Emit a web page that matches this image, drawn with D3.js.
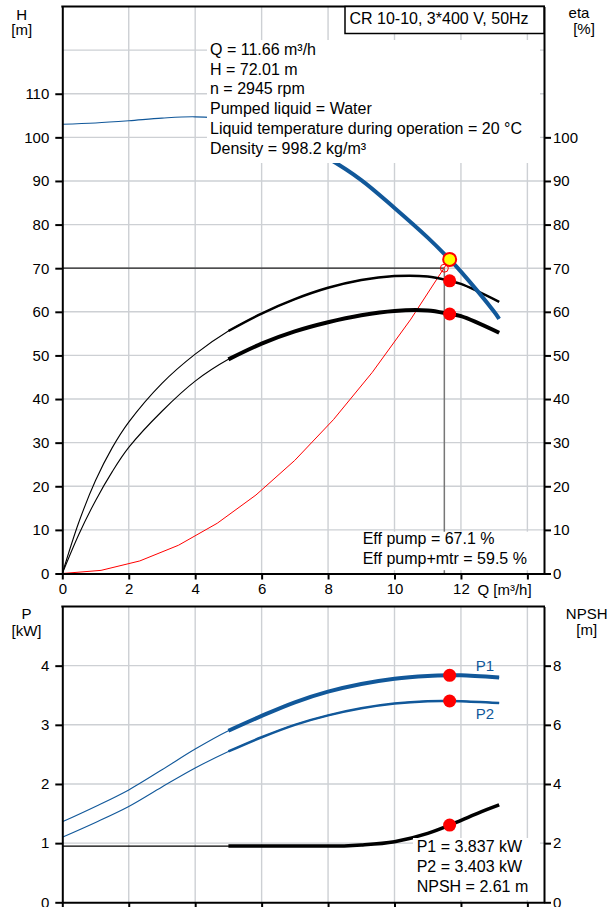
<!DOCTYPE html>
<html>
<head>
<meta charset="utf-8">
<script src="https://cdn.jsdelivr.net/npm/d3@7"></script>
<style>
  body { margin: 0; background: #fff; }
  svg text { font-family: "Liberation Sans", Arial, sans-serif; fill: #000; }
</style>
</head>
<body>
<div id="chart"></div>
<script>
// ---- data ----
const qTicks = [0, 2, 4, 6, 8, 10, 12, 14];
const qLabels = ['0', '2', '4', '6', '8', '10', '12', ''];
const hTicks = [0, 10, 20, 30, 40, 50, 60, 70, 80, 90, 100, 110];
const etaTicks = [0, 10, 20, 30, 40, 50, 60, 70, 80, 90, 100];
const pTicks = [0, 1, 2, 3, 4];
const npshTicks = [0, 2, 4, 6, 8];

// head curve [m]
const headQ = [0, 1, 2, 3, 4, 5, 6, 7, 8, 9, 10, 11, 11.66, 12, 13, 13.15];
const headH = [103, 103.3, 103.8, 104.4, 104.7, 104.1, 102.3, 99.2, 95.2, 90.2, 83.8, 77.0, 72.01, 69.2, 60.0, 58.4];

// efficiency curves [%]
const etaQ = [0, 0.5, 1, 1.5, 2, 3, 4, 5, 6, 7, 8, 9, 10, 11, 11.66, 12, 13.15];
const etaPump = [0, 11.8, 21.3, 28.8, 34.7, 43.6, 50.3, 55.6, 59.6, 62.9, 65.5, 67.3, 68.2, 68.1, 67.1, 66.4, 62.3];
const etaTotal = [0, 9.0, 16.7, 23.3, 28.9, 37.2, 44.1, 49.1, 52.7, 55.5, 57.6, 59.2, 60.2, 60.3, 59.5, 59.0, 55.2];

// system curve through the duty point
const sysQ = [0, 1.166, 2.332, 3.498, 4.664, 5.83, 6.996, 8.162, 9.328, 10.494, 11.66];
const sysH = [0, 0.72, 2.88, 6.48, 11.52, 18.0, 25.92, 35.28, 46.09, 58.33, 72.01];

// power curves [kW]
const powQ = [0, 1, 2, 3, 4, 5, 6, 7, 8, 9, 10, 11, 11.66, 12, 13.15];
const powP1 = [1.36, 1.62, 1.90, 2.24, 2.59, 2.90, 3.15, 3.38, 3.56, 3.69, 3.78, 3.826, 3.837, 3.836, 3.80];
const powP2 = [1.10, 1.35, 1.62, 1.95, 2.27, 2.55, 2.79, 3.00, 3.16, 3.28, 3.36, 3.40, 3.403, 3.40, 3.37];

// NPSH curve [m]
const npshQ = [0, 2, 4, 5, 6, 7, 8, 9, 10, 11, 11.66, 12.5, 13.15];
const npshV = [1.9, 1.9, 1.9, 1.9, 1.9, 1.9, 1.9, 1.94, 2.05, 2.33, 2.61, 3.01, 3.29];

const duty = { q: 11.5, h: 70 };
const op = { q: 11.66, h: 72.01, etaPump: 67.1, etaTotal: 59.5, p1: 3.837, p2: 3.403, npsh: 2.61 };

const infoLines = ['Q = 11.66 m³/h', 'H = 72.01 m', 'n = 2945 rpm', 'Pumped liquid = Water',
  'Liquid temperature during operation = 20 °C', 'Density = 998.2 kg/m³'];
const effLines = ['Eff pump = 67.1 %', 'Eff pump+mtr = 59.5 %'];
const powLines = ['P1 = 3.837 kW', 'P2 = 3.403 kW', 'NPSH = 2.61 m'];

const BLUE = '#11589a';
const GRID = '#cdd0d4';

const svg = d3.select('#chart').append('svg')
  .attr('width', 615)
  .attr('height', 907);

// scales
const x = d3.scaleLinear().domain([0, 14.5]).range([62.3, 544]);
const yH = d3.scaleLinear().domain([0, 130]).range([573.5, 6.5]);
const yP = d3.scaleLinear().domain([0, 5]).range([902.3, 606.5]);
const yN = d3.scaleLinear().domain([0, 10]).range([902.3, 606.5]);

const zip = (qs, vs) => qs.map((q, i) => ({ q, v: vs[i] }));
const lineFor = (y, c) => d3.line().x(d => x(d.q)).y(d => y(d.v)).curve(c);

// grid
function grid(y, yVals, top, bottom) {
  const g = svg.append('g').attr('stroke', GRID).attr('stroke-width', 1.4);
  g.selectAll('.vg').data([2, 4, 6, 8, 10, 12, 14]).enter().append('line')
    .attr('x1', d => x(d)).attr('x2', d => x(d))
    .attr('y1', top).attr('y2', bottom);
  g.selectAll('.hg').data(yVals).enter().append('line')
    .attr('x1', x(0)).attr('x2', x(14.5))
    .attr('y1', d => y(d)).attr('y2', d => y(d));
}
grid(yH, [10, 20, 30, 40, 50, 60, 70, 80, 90, 100, 110, 120], yH(130), yH(0));
grid(yP, [1, 2, 3, 4], yP(5), yP(0));

// curve helper: thin over the whole range, thick from Q = 5
function curve(qs, vs, y, color, thick, c = d3.curveCatmullRom.alpha(0.5)) {
  const data = zip(qs, vs);
  svg.append('path').datum(data)
    .attr('d', lineFor(y, c)).attr('fill', 'none')
    .attr('stroke', color).attr('stroke-width', 1.1);
  svg.append('path').datum(data.filter(d => d.q >= 5))
    .attr('d', lineFor(y, c)).attr('fill', 'none')
    .attr('stroke', color).attr('stroke-width', thick);
}

// ---- upper chart ----
svg.append('line')
  .attr('x1', x(0)).attr('x2', x(duty.q))
  .attr('y1', yH(duty.h)).attr('y2', yH(duty.h))
  .attr('stroke', '#222').attr('stroke-width', 1.2);
svg.append('line')
  .attr('x1', x(duty.q)).attr('x2', x(duty.q))
  .attr('y1', yH(duty.h)).attr('y2', yH(0))
  .attr('stroke', '#777').attr('stroke-width', 1.5);

svg.append('path').datum(zip(sysQ, sysH))
  .attr('d', lineFor(yH, d3.curveLinear))
  .attr('fill', 'none').attr('stroke', '#ff0000').attr('stroke-width', 1);

curve(etaQ, etaPump, yH, '#000', 2.5);
curve(etaQ, etaTotal, yH, '#000', 4);
curve(headQ, headH, yH, BLUE, 4);

// ---- lower chart ----
curve(powQ, powP1, yP, BLUE, 4);
curve(powQ, powP2, yP, BLUE, 2.5);
curve(npshQ, npshV, yN, '#000', 3.5, d3.curveMonotoneX);

// white label boxes
function textBox(bx, by, bw, bh, lines, tx, firstBase, step) {
  svg.append('rect').attr('x', bx).attr('y', by).attr('width', bw).attr('height', bh).attr('fill', '#fff');
  svg.append('g').selectAll('text').data(lines).enter().append('text')
    .attr('x', tx).attr('y', (d, i) => firstBase + i * step)
    .style('font-size', '16px')
    .text(d => d);
}
textBox(207, 40, 333, 123, infoLines, 210, 55, 19.7);
textBox(360.7, 531.7, 183, 38.5, effLines, 362.7, 544.3, 20);
textBox(413, 838, 127, 62, powLines, 416.7, 852.4, 19.8);

// operating points
svg.append('circle')
  .attr('cx', x(duty.q)).attr('cy', yH(duty.h)).attr('r', 4)
  .attr('fill', 'none').attr('stroke', '#ff0000').attr('stroke-width', 1);
[[op.etaPump, yH], [op.etaTotal, yH], [op.p1, yP], [op.p2, yP], [op.npsh, yN]].forEach(([v, y]) => {
  svg.append('circle').attr('cx', x(op.q)).attr('cy', y(v)).attr('r', 6.5).attr('fill', '#ff0000');
});
svg.append('circle')
  .attr('cx', x(op.q)).attr('cy', yH(op.h)).attr('r', 6.5)
  .attr('fill', '#ffff00').attr('stroke', '#ff0000').attr('stroke-width', 2);

// P1 / P2 labels
svg.append('text').attr('x', 475.7).attr('y', 670.7).style('font-size', '15px').style('fill', BLUE).text('P1');
svg.append('text').attr('x', 475.7).attr('y', 718.7).style('font-size', '15px').style('fill', BLUE).text('P2');

// ---- axes ----
function styleAxis(g) {
  g.select('.domain').attr('stroke', '#000').attr('stroke-width', 2);
  g.selectAll('.tick line').attr('stroke', '#000').attr('stroke-width', 2);
  g.selectAll('.tick text').style('font-size', '15px').style('font-family', '"Liberation Sans", Arial, sans-serif');
}

svg.append('g')
  .attr('transform', `translate(${x(0)},0)`)
  .call(d3.axisLeft(yH).tickValues(hTicks).tickSize(7).tickPadding(6).tickSizeOuter(0))
  .call(styleAxis);
svg.append('g')
  .attr('transform', `translate(${x(14.5)},0)`)
  .call(d3.axisRight(yH).tickValues(etaTicks).tickSize(7).tickPadding(2).tickSizeOuter(0))
  .call(styleAxis);
svg.append('g')
  .attr('transform', `translate(0,${yH(0)})`)
  .call(d3.axisBottom(x).tickValues(qTicks).tickFormat((d, i) => qLabels[i]).tickSize(6).tickPadding(4).tickSizeOuter(0))
  .call(styleAxis);

svg.append('g')
  .attr('transform', `translate(${x(0)},0)`)
  .call(d3.axisLeft(yP).tickValues(pTicks).tickFormat(d3.format('d')).tickSize(7).tickPadding(6).tickSizeOuter(0))
  .call(styleAxis);
svg.append('g')
  .attr('transform', `translate(${x(14.5)},0)`)
  .call(d3.axisRight(yN).tickValues(npshTicks).tickFormat(d3.format('d')).tickSize(7).tickPadding(2).tickSizeOuter(0))
  .call(styleAxis);
svg.append('g')
  .attr('transform', `translate(0,${yP(0)})`)
  .call(d3.axisBottom(x).tickValues(qTicks).tickFormat('').tickSize(6).tickSizeOuter(0))
  .call(styleAxis);

// top borders
[yH(130), yP(5)].forEach(yy => {
  svg.append('line').attr('x1', x(0) - 1).attr('x2', x(14.5) + 1)
    .attr('y1', yy).attr('y2', yy).attr('stroke', '#000').attr('stroke-width', 2);
});

// pump title box
svg.append('rect')
  .attr('x', 345).attr('y', yH(130)).attr('width', x(14.5) - 345).attr('height', 27)
  .attr('fill', '#fff').attr('stroke', '#000').attr('stroke-width', 1.5);
svg.append('text').attr('x', 349.5).attr('y', 23.5).style('font-size', '16px').text('CR 10-10, 3*400 V, 50Hz');

// axis titles
const titles = [
  ['H', 21.7, 19.5], ['[m]', 21.7, 35],
  ['eta', 579, 18], ['[%]', 584, 34],
  ['Q [m³/h]', 504.5, 595],
  ['P', 26.5, 618.5], ['[kW]', 26.5, 636],
  ['NPSH', 586.7, 619], ['[m]', 586.7, 635]
];
svg.append('g').selectAll('text').data(titles).enter().append('text')
  .attr('x', d => d[1]).attr('y', d => d[2])
  .attr('text-anchor', 'middle')
  .style('font-size', '15px')
  .text(d => d[0]);
</script>
</body>
</html>
